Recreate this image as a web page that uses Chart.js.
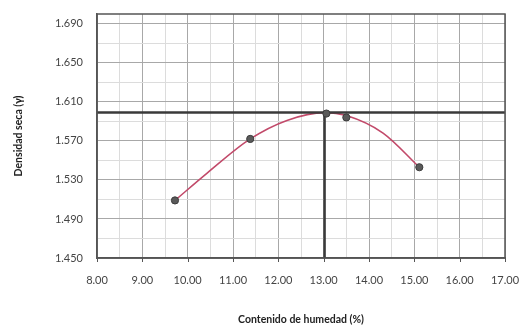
<!DOCTYPE html>
<html>
<head>
<meta charset="utf-8">
<script src="https://cdn.jsdelivr.net/npm/chart.js@4"></script>
<style>
  html, body { margin: 0; padding: 0; background: #fff; }
  #wrap { width: 520px; height: 327px; }
</style>
</head>
<body>
<div id="wrap"><canvas id="grafico" width="520" height="327"></canvas></div>
<script>
// puntos del ensayo proctor
const humedad = [9.72, 11.38, 13.06, 13.50, 15.11];
const densidad = [1.509, 1.572, 1.598, 1.594, 1.543];

// curva de ajuste
const curvaHumedad = [9.72, 10.43, 11.38, 12.19, 13.02, 13.50, 14.31, 15.11];
const curvaDensidad = [1.509, 1.537, 1.572, 1.591, 1.599, 1.596, 1.578, 1.543];

// optimo
const humedadOptima = 13.02;
const densidadMaxima = 1.599;

// ejes
const xMin = 8, xMax = 17, xMinor = 0.5;
const yMin = 1.45, yMax = 1.70, yMayor = 0.04, yMinor = 0.02;

const esMultiplo = (v, base, paso) => {
    const r = (v - base) / paso;
    return Math.abs(Math.round(r) - r) < 1e-6;
};

const ticksX = [];
for (let v = xMin; v <= xMax + 1e-9; v += xMinor) ticksX.push({ value: +v.toFixed(2) });
const ticksY = [];
for (let v = yMin; v <= yMax + 1e-9; v += yMinor) ticksY.push({ value: +v.toFixed(3) });

const puntos = humedad.map((h, i) => ({ x: h, y: densidad[i] }));
const curva = curvaHumedad.map((h, i) => ({ x: h, y: curvaDensidad[i] }));

const ctx = document.getElementById('grafico').getContext('2d');
const grafico = new Chart(ctx, {
    type: 'scatter',
    data: {
        datasets: [
            {
                label: 'curva',
                data: curva,
                showLine: true,
                cubicInterpolationMode: 'monotone',
                borderColor: '#c24a6a',
                borderWidth: 1.6,
                pointRadius: 0,
                order: 3
            },
            {
                label: 'densidad maxima',
                data: [{ x: xMin, y: densidadMaxima }, { x: xMax, y: densidadMaxima }],
                showLine: true,
                borderColor: '#3a3a3a',
                borderWidth: 2.5,
                pointRadius: 0,
                order: 2
            },
            {
                label: 'humedad optima',
                data: [{ x: humedadOptima, y: yMin }, { x: humedadOptima, y: densidadMaxima }],
                showLine: true,
                borderColor: '#3a3a3a',
                borderWidth: 2.5,
                pointRadius: 0,
                order: 2
            },
            {
                label: 'ensayo',
                data: puntos,
                showLine: false,
                pointRadius: 3.6,
                pointBackgroundColor: '#5a5a5a',
                pointBorderColor: '#3c3c3c',
                pointBorderWidth: 1,
                order: 1
            }
        ]
    },
    options: {
        responsive: false,
        animation: false,
        layout: { padding: { left: 0, right: 15, top: 14, bottom: 0 } },
        plugins: {
            legend: { display: false },
            tooltip: { enabled: false }
        },
        scales: {
            x: {
                type: 'linear',
                min: xMin,
                max: xMax,
                afterBuildTicks: (s) => { s.ticks = ticksX.map(t => ({ value: t.value })); },
                afterFit: (s) => { s.height = 69; s.paddingLeft = 0; s.paddingRight = 0; },
                border: { color: '#555', width: 1.5 },
                grid: {
                    color: (c) => esMultiplo(c.tick.value, xMin, 1) ? '#a8a8a8' : '#dcdcdc',
                    lineWidth: 1,
                    drawTicks: false
                },
                ticks: {
                    padding: 16,
                    autoSkip: false,
                    maxRotation: 0,
                    color: '#444',
                    font: { family: 'Lato', size: 11 },
                    callback: (v) => esMultiplo(v, xMin, 1) ? v.toFixed(2) : ''
                },
                title: {
                    display: true,
                    text: 'Contenido de humedad (%)',
                    color: '#222',
                    font: { family: 'Lato', size: 10.5, weight: 'bold' },
                    padding: { top: 1, bottom: 1 }
                }
            },
            y: {
                type: 'linear',
                min: yMin,
                max: yMax,
                afterBuildTicks: (s) => { s.ticks = ticksY.map(t => ({ value: t.value })); },
                afterFit: (s) => { s.width = 97; s.paddingTop = 0; s.paddingBottom = 0; },
                border: { color: '#555', width: 1.5 },
                grid: {
                    color: (c) => esMultiplo(c.tick.value, yMin, yMayor) ? '#a8a8a8' : '#dcdcdc',
                    lineWidth: 1,
                    drawTicks: false
                },
                ticks: {
                    padding: 14,
                    autoSkip: false,
                    color: '#444',
                    font: { family: 'Lato', size: 11 },
                    callback: (v) => esMultiplo(v, yMin, yMayor) ? v.toFixed(3) : ''
                },
                title: {
                    display: true,
                    text: 'Densidad seca (γ)',
                    color: '#222',
                    font: { family: 'Lato', size: 10.5, weight: 'bold' },
                    padding: { top: 12, bottom: 1 }
                }
            }
        }
    },
    plugins: [{
        id: 'marcoArea',
        afterDraw: (chart) => {
            const a = chart.chartArea;
            const c = chart.ctx;
            const sx = chart.scales.x;
            c.save();
            c.strokeStyle = '#555';
            c.lineWidth = 1.5;
            c.strokeRect(a.left, a.top, a.right - a.left, a.bottom - a.top);
            // marcas pequeñas bajo el eje x
            c.lineWidth = 1;
            sx.ticks.forEach(t => {
                if (!esMultiplo(t.value, xMin, 1)) return;
                const px = Math.round(sx.getPixelForValue(t.value)) + 0.5;
                c.beginPath();
                c.moveTo(px, a.bottom);
                c.lineTo(px, a.bottom + 4);
                c.stroke();
            });
            c.restore();
        }
    }]
});
</script>
</body>
</html>
